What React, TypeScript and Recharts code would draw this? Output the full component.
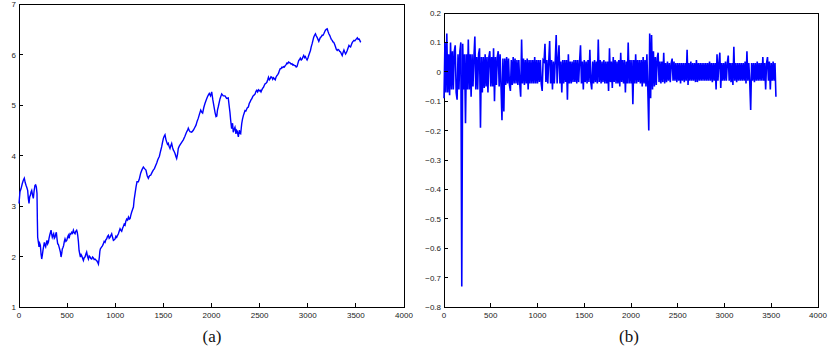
import { LineChart, Line, XAxis, YAxis, ReferenceArea } from "recharts";

// (a) level series
const aIndex = [
  0, 10, 21, 35, 45, 55, 65, 73, 82, 90, 97, 104, 111, 118, 125, 132, 140, 149, 157, 166, 173, 180, 187, 191, 194,
  200, 208, 215, 222, 229, 236, 242, 249, 256, 263, 270, 277, 284, 291, 298, 305, 312, 319, 326, 333, 340, 346, 353,
  360, 367, 374, 381, 388, 395, 402, 409, 416, 423, 430, 437, 444, 450, 457, 464, 471, 478, 487, 496, 505, 513, 521,
  530, 538, 547, 556, 565, 573, 582, 590, 599, 605, 610, 617, 624, 631, 638, 645, 651, 660, 669, 678, 686, 695, 703,
  712, 721, 729, 738, 746, 755, 764, 773, 781, 790, 799, 807, 816, 825, 830, 835, 840, 845, 852, 859, 867, 876, 885,
  894, 902, 911, 920, 929, 937, 946, 955, 963, 972, 981, 990, 998, 1007, 1015, 1024, 1033, 1041, 1050, 1059, 1067,
  1076, 1085, 1093, 1102, 1110, 1119, 1128, 1137, 1146, 1154, 1162, 1171, 1180, 1189, 1196, 1206, 1216, 1226, 1240,
  1252, 1264, 1278, 1292, 1305, 1319, 1332, 1344, 1356, 1368, 1381, 1395, 1407, 1420, 1431, 1441, 1450, 1458, 1470,
  1482, 1490, 1500, 1508, 1517, 1526, 1534, 1543, 1551, 1560, 1569, 1578, 1586, 1595, 1603, 1612, 1621, 1630, 1638,
  1647, 1655, 1664, 1673, 1690, 1707, 1724, 1742, 1752, 1759, 1768, 1777, 1794, 1811, 1825, 1839, 1851, 1863, 1875,
  1888, 1898, 1908, 1920, 1932, 1945, 1957, 1968, 1977, 1990, 2002, 2014, 2026, 2037, 2047, 2055, 2062, 2071, 2088,
  2106, 2122, 2140, 2157, 2174, 2185, 2192, 2199, 2209, 2219, 2226, 2235, 2244, 2254, 2261, 2268, 2279, 2289, 2296,
  2303, 2314, 2322, 2331, 2340, 2348, 2357, 2366, 2374, 2383, 2392, 2401, 2410, 2418, 2427, 2436, 2445, 2453, 2462,
  2470, 2479, 2488, 2497, 2505, 2514, 2523, 2531, 2540, 2549, 2557, 2566, 2575, 2584, 2592, 2601, 2610, 2618, 2627,
  2636, 2644, 2653, 2662, 2670, 2679, 2688, 2697, 2705, 2714, 2723, 2731, 2740, 2749, 2757, 2766, 2775, 2784, 2792,
  2801, 2810, 2819, 2827, 2836, 2845, 2853, 2862, 2871, 2880, 2888, 2897, 2906, 2915, 2923, 2932, 2941, 2950, 2958,
  2967, 2975, 2984, 2993, 3002, 3010, 3019, 3028, 3036, 3045, 3054, 3062, 3071, 3080, 3088, 3097, 3106, 3115, 3123,
  3132, 3141, 3149, 3158, 3167, 3176, 3184, 3193, 3202, 3210, 3219, 3228, 3236, 3245, 3254, 3262, 3271, 3280, 3289,
  3297, 3306, 3315, 3323, 3332, 3341, 3350, 3358, 3367, 3376, 3384, 3393, 3402, 3410, 3419, 3428, 3436, 3445, 3454,
  3463, 3471, 3480, 3489, 3497, 3506, 3515, 3523, 3532, 3541, 3550,
];
const aLevel = [
  3.05, 3.28, 3.34, 3.45, 3.51, 3.55, 3.46, 3.41, 3.36, 3.31, 3.15, 3.05, 3.18, 3.21, 3.28, 3.31, 3.22, 3.15, 3.3, 3.41,
  3.42, 3.38, 3.25, 2.7, 2.38, 2.3, 2.19, 2.26, 2.22, 2.05, 1.95, 2.02, 2.12, 2.2, 2.28, 2.22, 2.19, 2.27, 2.32, 2.25,
  2.28, 2.36, 2.42, 2.47, 2.52, 2.44, 2.38, 2.42, 2.45, 2.36, 2.38, 2.44, 2.48, 2.35, 2.25, 2.24, 2.19, 2.14, 2.09,
  1.99, 2.06, 2.15, 2.18, 2.22, 2.3, 2.35, 2.3, 2.32, 2.38, 2.42, 2.36, 2.45, 2.44, 2.48, 2.46, 2.52, 2.47, 2.45, 2.5,
  2.52, 2.48, 2.42, 2.3, 2.12, 2.05, 1.99, 2.04, 2.02, 1.97, 1.92, 1.98, 1.99, 2.05, 2.09, 2.0, 1.95, 2.01, 1.99, 1.96,
  1.95, 1.99, 1.97, 1.94, 1.95, 1.93, 1.92, 1.89, 1.85, 1.92, 1.99, 2.1, 2.15, 2.17, 2.19, 2.21, 2.25, 2.3, 2.28, 2.33,
  2.35, 2.4, 2.42, 2.36, 2.38, 2.42, 2.45, 2.38, 2.32, 2.33, 2.35, 2.4, 2.38, 2.42, 2.45, 2.5, 2.55, 2.52, 2.5, 2.56,
  2.6, 2.64, 2.62, 2.7, 2.74, 2.72, 2.78, 2.74, 2.75, 2.82, 2.88, 2.93, 2.98, 3.12, 3.25, 3.38, 3.48, 3.48, 3.55, 3.65,
  3.72, 3.77, 3.74, 3.71, 3.6, 3.55, 3.6, 3.61, 3.66, 3.71, 3.74, 3.8, 3.85, 3.91, 3.95, 3.98, 4.08, 4.17, 4.25, 4.34,
  4.38, 4.41, 4.32, 4.27, 4.22, 4.24, 4.18, 4.14, 4.2, 4.24, 4.16, 4.11, 4.08, 4.04, 3.98, 3.94, 4.02, 4.14, 4.18, 4.21,
  4.26, 4.31, 4.38, 4.47, 4.5, 4.54, 4.5, 4.47, 4.46, 4.5, 4.55, 4.6, 4.68, 4.74, 4.82, 4.9, 4.86, 4.84, 4.95, 5.03,
  5.1, 5.16, 5.2, 5.23, 5.18, 5.26, 5.1, 4.97, 4.85, 4.77, 4.78, 4.9, 4.97, 5.12, 5.22, 5.18, 5.18, 5.13, 5.14, 4.96,
  4.85, 4.7, 4.53, 4.64, 4.46, 4.52, 4.56, 4.43, 4.5, 4.48, 4.37, 4.5, 4.44, 4.43, 4.63, 4.72, 4.79, 4.84, 4.89, 4.88,
  4.92, 4.95, 4.96, 5.03, 5.06, 5.1, 5.12, 5.16, 5.19, 5.2, 5.22, 5.27, 5.29, 5.26, 5.3, 5.28, 5.29, 5.26, 5.3, 5.33,
  5.35, 5.39, 5.42, 5.43, 5.45, 5.5, 5.55, 5.5, 5.52, 5.56, 5.55, 5.51, 5.54, 5.52, 5.5, 5.55, 5.58, 5.6, 5.63, 5.68,
  5.72, 5.72, 5.75, 5.74, 5.76, 5.75, 5.78, 5.8, 5.83, 5.82, 5.85, 5.84, 5.83, 5.81, 5.82, 5.79, 5.8, 5.78, 5.78, 5.75,
  5.76, 5.82, 5.88, 5.9, 5.93, 5.89, 5.91, 5.95, 5.98, 5.94, 5.96, 5.92, 5.89, 5.93, 5.98, 6.03, 6.08, 6.15, 6.21,
  6.28, 6.34, 6.38, 6.41, 6.37, 6.34, 6.3, 6.26, 6.3, 6.34, 6.35, 6.38, 6.38, 6.41, 6.45, 6.48, 6.5, 6.51, 6.46, 6.41,
  6.38, 6.34, 6.3, 6.28, 6.25, 6.24, 6.2, 6.15, 6.1, 6.08, 6.1, 6.09, 6.06, 6.05, 6.01, 5.98, 6.04, 6.09, 6.05, 6.01,
  6.04, 6.08, 6.13, 6.18, 6.16, 6.15, 6.2, 6.24, 6.26, 6.28, 6.27, 6.29, 6.31, 6.33, 6.3, 6.31, 6.28, 6.24,
];

// (b) returns, one reading every 10 observations from 0 to 3550
const bReturn = [
  -0.09, 0.1, -0.07, 0.13, -0.07, 0.06, -0.08, 0.1, -0.06, 0.07,
  -0.06, 0.07, 0.09, -0.07, -0.095, 0.06, -0.06, 0.07, 0.1, -0.73,
  0.095, -0.06, 0.06, -0.175, 0.06, -0.06, 0.11, -0.06, 0.06, -0.085,
  0.06, -0.05, 0.05, 0.12, -0.06, 0.05, -0.06, 0.06, 0.08, -0.19,
  0.05, -0.07, 0.05, -0.055, 0.06, -0.05, 0.05, -0.07, 0.05, 0.07,
  -0.05, 0.05, -0.05, 0.08, -0.1, 0.05, -0.045, 0.05, 0.07, -0.05,
  0.06, -0.05, -0.165, 0.045, -0.135, 0.045, -0.045, 0.05, -0.04, 0.045,
  -0.045, -0.065, 0.04, -0.045, 0.05, -0.04, 0.045, -0.04, 0.04, -0.045,
  0.04, -0.04, -0.085, 0.11, -0.04, 0.045, -0.045, 0.04, -0.04, 0.045,
  -0.06, 0.04, -0.04, 0.04, -0.04, 0.04, -0.04, 0.05, -0.04, 0.04,
  -0.04, 0.04, -0.035, 0.04, -0.04, -0.065, 0.04, 0.035, 0.095, -0.035,
  0.04, -0.04, 0.035, 0.105, -0.04, 0.04, -0.06, 0.035, -0.04, 0.04,
  0.125, -0.04, 0.04, 0.09, -0.04, 0.035, -0.07, 0.04, -0.04, 0.04,
  -0.035, 0.04, -0.095, 0.06, -0.04, 0.035, -0.04, 0.035, -0.035, 0.04,
  -0.035, 0.04, -0.04, 0.04, -0.035, 0.035, 0.09, -0.04, 0.035, -0.06,
  0.04, -0.035, 0.035, -0.04, 0.04, -0.035, 0.075, -0.035, -0.06, 0.035,
  -0.04, 0.04, -0.035, 0.035, -0.04, 0.11, -0.035, 0.04, -0.04, 0.035,
  -0.035, 0.04, -0.04, 0.035, -0.04, 0.035, -0.065, 0.08, -0.035, 0.035,
  -0.055, 0.05, -0.035, 0.04, -0.04, 0.035, -0.04, 0.04, -0.05, 0.065,
  -0.035, 0.04, -0.04, 0.04, -0.07, 0.035, -0.04, 0.1, -0.04, 0.04,
  -0.04, 0.04, -0.11, 0.04, -0.04, 0.06, -0.04, 0.04, -0.035, 0.04,
  -0.04, 0.04, -0.05, 0.05, -0.04, 0.04, -0.05, 0.06, -0.06, -0.2,
  0.13, -0.09, 0.125, -0.06, 0.07, -0.05, 0.05, -0.045, 0.045, 0.065,
  -0.035, 0.035, -0.04, 0.035, -0.035, 0.065, -0.04, 0.03, -0.035, 0.035,
  -0.03, 0.03, -0.035, 0.03, 0.045, -0.03, 0.035, -0.03, 0.03, -0.035,
  0.03, -0.03, 0.03, -0.04, 0.03, -0.03, 0.03, -0.035, 0.03, -0.03,
  0.075, -0.045, 0.03, -0.03, 0.035, -0.03, 0.03, -0.03, 0.03, -0.035,
  0.04, -0.035, 0.03, -0.03, 0.03, -0.03, 0.03, -0.03, 0.03, -0.03,
  0.03, -0.03, 0.03, -0.03, 0.035, -0.03, 0.03, -0.035, 0.03, -0.03,
  0.03, -0.06, 0.06, -0.03, 0.03, 0.065, -0.055, 0.03, -0.03, 0.03,
  -0.03, 0.035, -0.03, 0.03, 0.055, -0.03, 0.03, -0.035, 0.03, -0.045,
  0.085, -0.03, 0.03, -0.035, 0.03, -0.03, 0.03, -0.03, 0.03, -0.03,
  0.03, -0.03, 0.035, -0.04, 0.07, -0.03, 0.03, -0.035, -0.13, 0.03,
  -0.03, 0.03, -0.035, 0.03, -0.03, 0.035, -0.03, 0.03, -0.03, 0.03,
  -0.03, 0.05, -0.03, 0.03, -0.06, 0.03, 0.05, -0.03, 0.035, -0.06,
  0.03, -0.03, 0.035, -0.03, 0.03, -0.085,
];

const xTicks = [0, 500, 1000, 1500, 2000, 2500, 3000, 3500, 4000];
const aTicks = [1, 2, 3, 4, 5, 6, 7];
const bTicks = [-0.8, -0.7, -0.6, -0.5, -0.4, -0.3, -0.2, -0.1, 0, 0.1, 0.2];

const levelData = aIndex.map((t, i) => ({ t, v: aLevel[i] }));
const returnData = bReturn.map((v, i) => ({ t: i * 10, v }));

const FONT = "'Liberation Sans', Arial, Helvetica, sans-serif";
const TICK = 4;

const fmt = (v: number) => (v < 0 ? "\u2212" + Math.abs(v) : String(v));

// matlab-style box: ticks point inward on all four sides
const bottomTick = (p: any) => (
  <g>
    <line x1={p.x} y1={p.y} x2={p.x} y2={p.y - TICK} stroke="#000" strokeWidth={1} shapeRendering="crispEdges" />
    <text x={p.x} y={p.y + 11} textAnchor="middle" fontSize={8} fontFamily={FONT} fill="#222">
      {p.payload.value}
    </text>
  </g>
);
const topTick = (p: any) => (
  <line x1={p.x} y1={p.y} x2={p.x} y2={p.y + TICK} stroke="#000" strokeWidth={1} shapeRendering="crispEdges" />
);
const leftTick = (p: any) => (
  <g>
    <line x1={p.x} y1={p.y} x2={p.x + TICK} y2={p.y} stroke="#000" strokeWidth={1} shapeRendering="crispEdges" />
    <text x={p.x - 3} y={p.y + 3} textAnchor="end" fontSize={8} fontFamily={FONT} fill="#222">
      {fmt(p.payload.value)}
    </text>
  </g>
);
const rightTick = (p: any) => (
  <line x1={p.x} y1={p.y} x2={p.x - TICK} y2={p.y} stroke="#000" strokeWidth={1} shapeRendering="crispEdges" />
);

function Panel({ data, domain, yTicks, yWidth, top, width, strokeWidth }: any) {
  return (
    <LineChart width={width} height={330} data={data} margin={{ top, right: 11, left: 0, bottom: 8 }}>
      <XAxis
        dataKey="t"
        type="number"
        domain={[0, 4000]}
        ticks={xTicks}
        interval={0}
        height={15}
        tickSize={0}
        tickMargin={0}
        tick={bottomTick}
        axisLine={false}
      />
      <XAxis
        xAxisId="top"
        orientation="top"
        dataKey="t"
        type="number"
        domain={[0, 4000]}
        ticks={xTicks}
        interval={0}
        height={0}
        tickSize={0}
        tickMargin={0}
        tick={topTick}
        axisLine={false}
      />
      <YAxis
        type="number"
        domain={domain}
        ticks={yTicks}
        interval={0}
        width={yWidth}
        tickSize={0}
        tickMargin={0}
        tick={leftTick}
        axisLine={false}
      />
      <YAxis
        yAxisId="r"
        orientation="right"
        type="number"
        domain={domain}
        ticks={yTicks}
        interval={0}
        width={0}
        tickSize={0}
        tickMargin={0}
        tick={rightTick}
        axisLine={false}
      />
      <Line
        type="linear"
        dataKey="v"
        stroke="#0000ff"
        strokeWidth={strokeWidth}
        strokeLinejoin="miter"
        dot={false}
        isAnimationActive={false}
      />
      <ReferenceArea
        x1={0}
        x2={4000}
        y1={domain[0]}
        y2={domain[1]}
        fill="none"
        fillOpacity={0}
        stroke="#000"
        strokeWidth={1}
        shapeRendering="crispEdges"
        ifOverflow="visible"
      />
    </LineChart>
  );
}

const caption: React.CSSProperties = {
  position: "absolute",
  top: 328,
  transform: "translateX(-50%)",
  fontFamily: "'Liberation Serif', 'DejaVu Serif', serif",
  fontSize: 17,
  lineHeight: 1,
  color: "#111",
};

export default function App() {
  return (
    <div style={{ position: "absolute", left: 0, top: 0, width: 829, height: 356, background: "#fff" }}>
      <div style={{ position: "absolute", left: 0, top: 0 }}>
        <Panel data={levelData} domain={[1, 7]} yTicks={aTicks} yWidth={19} top={4} width={415} strokeWidth={1.4} />
      </div>
      <div style={{ position: "absolute", left: 415, top: 0 }}>
        <Panel data={returnData} domain={[-0.8, 0.2]} yTicks={bTicks} yWidth={29} top={13} width={414} strokeWidth={1.6} />
      </div>
      <div style={{ ...caption, left: 212 }}>(a)</div>
      <div style={{ ...caption, left: 629 }}>(b)</div>
    </div>
  );
}
